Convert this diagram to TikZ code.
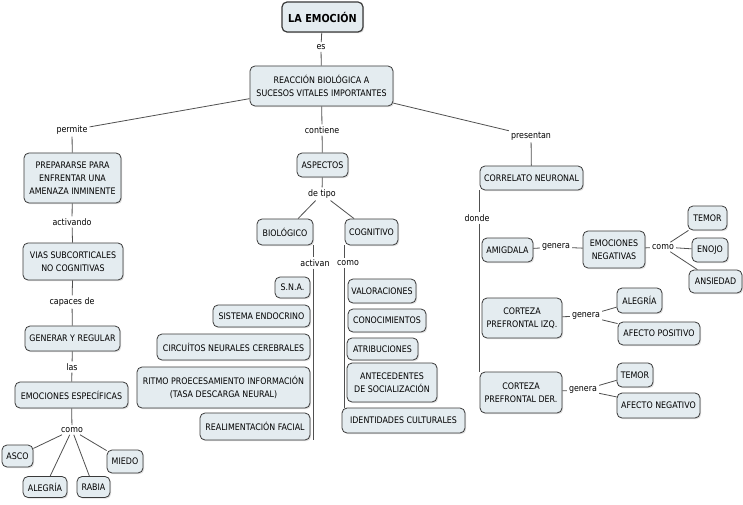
\documentclass[tikz,border=0pt]{standalone}
\usepackage{fontspec}
\setmainfont[FakeStretch=0.88]{DejaVu Sans}
\usetikzlibrary{shadows}
\definecolor{boxfill}{HTML}{E4ECF0}
\definecolor{boxline}{HTML}{3A3A3A}
\definecolor{linkcol}{HTML}{505050}
\tikzset{
  box/.style={draw=boxline, fill=boxfill, rounded corners=5pt, line width=0.8pt,
    inner sep=1pt, align=center, font=\fontsize{9}{13}\selectfont,
    drop shadow={opacity=0.25, shadow xshift=1.2pt, shadow yshift=-1.2pt}},
  lbl/.style={inner sep=2pt, font=\fontsize{9}{13}\selectfont},
  link/.style={draw=linkcol, line width=0.8pt},
}
\begin{document}
\begin{tikzpicture}[x=1pt,y=-1pt]
\fill[white] (0,0) rectangle (743,505);
\useasboundingbox (0,0) rectangle (743,505);

% ---- top ----
\node[box, line width=1.2pt, minimum width=81pt, minimum height=30pt, font=\fontsize{11}{13}\selectfont\bfseries] (emo) at (322.5,17) {LA EMOCIÓN};
\node[lbl] (es) at (321,47) {es};
\node[box, minimum width=143pt, minimum height=40pt] (reac) at (321.5,86) {REACCIÓN BIOLÓGICA A\\SUCESOS VITALES IMPORTANTES};
\node[lbl] (permite) at (72,130) {permite};
\node[lbl] (contiene) at (322,130) {contiene};
\node[lbl] (presentan) at (531,136) {presentan};

% ---- left column ----
\node[box, minimum width=97pt, minimum height=50pt] (prep) at (72.5,178) {PREPARARSE PARA\\ENFRENTAR UNA\\AMENAZA INMINENTE};
\node[lbl] (activando) at (72,222) {activando};
\node[box, minimum width=100pt, minimum height=37pt] (vias) at (73,261.5) {VIAS SUBCORTICALES\\NO COGNITIVAS};
\node[lbl] (capaces) at (72,302) {capaces de};
\node[box, minimum width=95pt, minimum height=25pt] (gen) at (72.5,338.5) {GENERAR Y REGULAR};
\node[lbl] (las) at (72,367) {las};
\node[box, minimum width=113pt, minimum height=26pt] (emesp) at (71.5,395) {EMOCIONES ESPECÍFICAS};
\node[lbl] (como1) at (72,430) {como};
\node[box, minimum width=31pt, minimum height=22pt] (asco) at (17.5,456) {ASCO};
\node[box, minimum width=44pt, minimum height=21pt] (alegria) at (45,487) {ALEGRÍA};
\node[box, minimum width=33pt, minimum height=21pt] (rabia) at (93.5,487) {RABIA};
\node[box, minimum width=36pt, minimum height=23pt] (miedo) at (125,461.5) {MIEDO};

% ---- middle ----
\node[box, minimum width=51pt, minimum height=24pt] (asp) at (322.5,165) {ASPECTOS};
\node[lbl] (detipo) at (322,194) {de tipo};
\node[box, minimum width=56pt, minimum height=26pt] (bio) at (285,232) {BIOLÓGICO};
\node[box, minimum width=53pt, minimum height=26pt] (cog) at (371.5,232) {COGNITIVO};
\node[lbl] (activan) at (315,263) {activan};
\node[lbl] (como2) at (348,263) {como};

\node[box, minimum width=35pt, minimum height=21pt] (sna) at (292.5,287.5) {S.N.A.};
\node[box, minimum width=97pt, minimum height=22pt] (endo) at (261.5,316) {SISTEMA ENDOCRINO};
\node[box, minimum width=153pt, minimum height=26pt] (circ) at (233.5,347) {CIRCUÍTOS NEURALES CEREBRALES};
\node[box, minimum width=173pt, minimum height=41pt] (ritmo) at (223.5,387.5) {RITMO PROECESAMIENTO INFORMACIÓN\\(TASA DESCARGA NEURAL)};
\node[box, minimum width=110pt, minimum height=27pt] (realim) at (255,426.5) {REALIMENTACIÓN FACIAL};

\node[box, minimum width=68pt, minimum height=24pt] (val) at (382,291) {VALORACIONES};
\node[box, minimum width=78pt, minimum height=23pt] (conoc) at (387,320.5) {CONOCIMIENTOS};
\node[box, minimum width=71pt, minimum height=22pt] (atrib) at (382.5,349) {ATRIBUCIONES};
\node[box, minimum width=90pt, minimum height=39pt] (antec) at (392,382.5) {ANTECEDENTES\\DE SOCIALIZACIÓN};
\node[box, minimum width=123pt, minimum height=25pt] (ident) at (403.5,420.5) {IDENTIDADES CULTURALES};

% ---- right ----
\node[box, minimum width=103pt, minimum height=24pt] (corr) at (531.5,178) {CORRELATO NEURONAL};
\node[lbl] (donde) at (477,218) {donde};
\node[box, minimum width=51pt, minimum height=24pt] (amig) at (507.5,250) {AMIGDALA};
\node[lbl] (genera1) at (556,247) {genera};
\node[box, minimum width=62pt, minimum height=37pt] (emneg) at (614,249.5) {EMOCIONES\\NEGATIVAS};
\node[lbl] (como3) at (663,247) {como};
\node[box, minimum width=39pt, minimum height=24pt] (temor1) at (707.5,218) {TEMOR};
\node[box, minimum width=36pt, minimum height=24pt] (enojo) at (710,250) {ENOJO};
\node[box, minimum width=53pt, minimum height=23pt] (ansiedad) at (715.5,281.5) {ANSIEDAD};

\node[box, minimum width=80pt, minimum height=40pt] (cizq) at (522,318) {CORTEZA\\PREFRONTAL IZQ.};
\node[lbl] (genera2) at (586,316) {genera};
\node[box, minimum width=45pt, minimum height=25pt] (alegria2) at (639.5,300.5) {ALEGRÍA};
\node[box, minimum width=82pt, minimum height=23pt] (afpos) at (659,333.5) {AFECTO POSITIVO};

\node[box, minimum width=82pt, minimum height=41pt] (cder) at (521,392.5) {CORTEZA\\PREFRONTAL DER.};
\node[lbl] (genera3) at (583,390) {genera};
\node[box, minimum width=36pt, minimum height=24pt] (temor2) at (635,375) {TEMOR};
\node[box, minimum width=83pt, minimum height=25pt] (afneg) at (658.5,405.5) {AFECTO NEGATIVO};

% ---- connectors ----
\draw[link] (emo) -- (es) -- (reac);
\draw[link] (reac) -- (permite) -- (prep) -- (activando) -- (vias) -- (capaces) -- (gen) -- (las) -- (emesp) -- (como1);
\draw[link] (como1) -- (asco);
\draw[link] (como1) -- (alegria);
\draw[link] (como1) -- (rabia);
\draw[link] (como1) -- (miedo);

\draw[link] (reac) -- (contiene) -- (asp) -- (detipo);
\draw[link] (detipo) -- (bio);
\draw[link] (detipo) -- (cog);
\draw[link] (bio.south east) -- (bio.south east |- activan.north);
\draw[link] (bio.south east |- activan.south) -- (bio.south east |- realim.south);
\draw[link] (cog.south west) -- (cog.south west |- como2.north);
\draw[link] (cog.south west |- como2.south) -- (cog.south west |- ident.north);

\draw[link] (reac) -- (presentan) -- (corr);
\draw[link] (corr.south west) -- (corr.south west |- donde.north);
\draw[link] (corr.south west |- donde.south) -- (corr.south west |- cder.north);
\draw[link] (amig) -- (genera1) -- (emneg) -- (como3);
\draw[link] (como3) -- (temor1);
\draw[link] (como3) -- (enojo);
\draw[link] (como3) -- (ansiedad);
\draw[link] (cizq) -- (genera2);
\draw[link] (genera2) -- (alegria2);
\draw[link] (genera2) -- (afpos);
\draw[link] (cder) -- (genera3);
\draw[link] (genera3) -- (temor2);
\draw[link] (genera3) -- (afneg);
\end{tikzpicture}
\end{document}
